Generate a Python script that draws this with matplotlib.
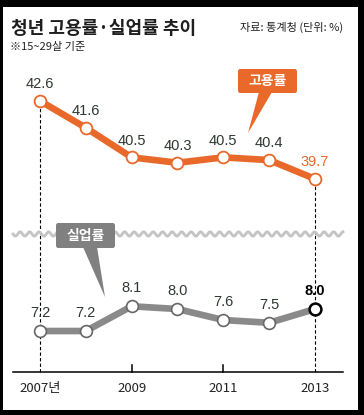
import numpy as np
import matplotlib
matplotlib.use("Agg")
import matplotlib.pyplot as plt
from matplotlib.patches import Rectangle, Polygon, FancyBboxPatch

# data
years = [2007, 2008, 2009, 2010, 2011, 2012, 2013]
employment = [42.6, 41.6, 40.5, 40.3, 40.5, 40.4, 39.7]
unemployment = [7.2, 7.2, 8.1, 8.0, 7.6, 7.5, 8.0]
tick_years = [2007, 2009, 2011, 2013]
tick_labels = ["2007년", "2009", "2011", "2013"]

KR = ["Noto Sans CJK KR", "DejaVu Sans"]
NUM = ["Liberation Sans Narrow", "Liberation Sans", "DejaVu Sans"]
ORANGE = "#e8692a"
GRAY = "#8a8a8a"
TXT = "#2e3830"

W, H = 364, 415
fig = plt.figure(figsize=(W / 100, H / 100), dpi=100)
fig.patch.set_facecolor("black")


def fx(x):
    return x / W


def fy(y):
    return 1 - y / H


# white panel inside black frame
fig.add_artist(Rectangle((fx(3), fy(410)), fx(355), 403 / H, transform=fig.transFigure,
                         facecolor="white", edgecolor="none", zorder=0))

xlim = (2007 - 27 / (275 / 6), 2013 + 28 / (275 / 6))
ax_top = fig.add_axes([fx(13), fy(234), 330 / W, 174 / H])
ax_bot = fig.add_axes([fx(13), fy(372), 330 / W, 138 / H])
for ax in (ax_top, ax_bot):
    ax.set_facecolor("none")
    ax.set_xlim(*xlim)
    for s in ax.spines.values():
        s.set_visible(False)
    ax.set_yticks([])
ax_top.set_xticks([])
ax_top.set_ylim(44.12 - 174 / 26.9, 44.12)
ax_bot.set_ylim(5.71, 5.71 + 138 / 27.5)

# dashed guide lines at 2007 and 2013
for ax in (ax_top, ax_bot):
    lo, hi = ax.get_ylim()
    for i in (0, 6):
        top = employment[i] if ax is ax_top else hi
        ax.plot([years[i], years[i]], [lo, top], color="black", lw=0.8,
                dashes=(3, 2), zorder=1, clip_on=False)

# employment line
ax_top.plot(years, employment, color=ORANGE, lw=4.8, zorder=2, solid_capstyle="butt")
ax_top.plot(years, employment, "o", ms=8.5, mfc="white", mec=ORANGE, mew=1.3, zorder=3)
for i, (x, v) in enumerate(zip(years, employment)):
    last = i == len(years) - 1
    ax_top.annotate(f"{v:.1f}", (x, v), xytext=(0, 12), textcoords="offset points",
                    ha="center", va="center", fontsize=10.5, family=NUM,
                    color=ORANGE if last else TXT)

# unemployment line
ax_bot.plot(years, unemployment, color=GRAY, lw=4.8, zorder=2, solid_capstyle="butt")
ax_bot.plot(years[:-1], unemployment[:-1], "o", ms=8.5, mfc="white", mec="#666666",
            mew=1.2, zorder=3)
ax_bot.plot(years[-1:], unemployment[-1:], "o", ms=8.5, mfc="white", mec="black",
            mew=1.8, zorder=3)
for i, (x, v) in enumerate(zip(years, unemployment)):
    last = i == len(years) - 1
    ax_bot.annotate(f"{v:.1f}", (x, v), xytext=(0, 13), textcoords="offset points",
                    ha="center", va="center", fontsize=10.5, family=NUM,
                    color="black" if last else TXT,
                    fontweight="bold" if last else "normal")

# x axis
ax_bot.spines["bottom"].set_visible(True)
ax_bot.spines["bottom"].set_linewidth(1.1)
ax_bot.set_xticks(tick_years)
ax_bot.set_xticklabels(tick_labels, family=KR, fontsize=9.5, color="#222222")
ax_bot.tick_params(axis="x", length=0, pad=7)
for x in tick_years[1:3]:
    ax_bot.plot([x, x], [0, 0.05], color="black", lw=1.1,
                transform=ax_bot.get_xaxis_transform(), clip_on=False)

# wavy break line
wx = np.linspace(13, 343, 400)
wy = 234 + 2.2 * np.sin((wx - 13) / 9.5 * 2 * np.pi)
fig.add_artist(plt.Line2D(fx(wx), fy(wy), transform=fig.transFigure, color="#c4c4c4", lw=2))


# callout boxes
def callout(x0, y0, x1, y1, base, tip, color, label):
    fig.add_artist(FancyBboxPatch((fx(x0), fy(y1)), fx(x1 - x0), (y1 - y0) / H,
                                  boxstyle="round,pad=0,rounding_size=0.006",
                                  transform=fig.transFigure, facecolor=color,
                                  edgecolor="none", zorder=5))
    pts = [(fx(base[0]), fy(y1 - 1)), (fx(base[1]), fy(y1 - 1)), (fx(tip[0]), fy(tip[1]))]
    fig.add_artist(Polygon(pts, closed=True, transform=fig.transFigure, facecolor=color,
                           edgecolor="none", zorder=5))
    fig.text(fx((x0 + x1) / 2), fy((y0 + y1) / 2), label, ha="center", va="center",
             color="white", fontsize=10, fontweight="bold", family=KR, zorder=6)


callout(238, 69, 297, 93, (259, 272), (248, 133), ORANGE, "고용률")
callout(56, 223, 115, 248, (83, 97), (105, 297), "#808080", "실업률")

# titles
fig.text(fx(11), fy(28), "청년 고용률·실업률 추이", ha="left", va="center",
         fontsize=13, fontweight="bold", family=KR, color="#1e1e1e")
fig.text(fx(343), fy(27), "자료: 통계청 (단위: %)", ha="right", va="center",
         fontsize=8, family=KR, color="#222222")
fig.text(fx(10), fy(47), "※15~29살 기준", ha="left", va="center",
         fontsize=8, family=KR, color="#222222")

fig.savefig("out.png", dpi=100, facecolor=fig.get_facecolor())
